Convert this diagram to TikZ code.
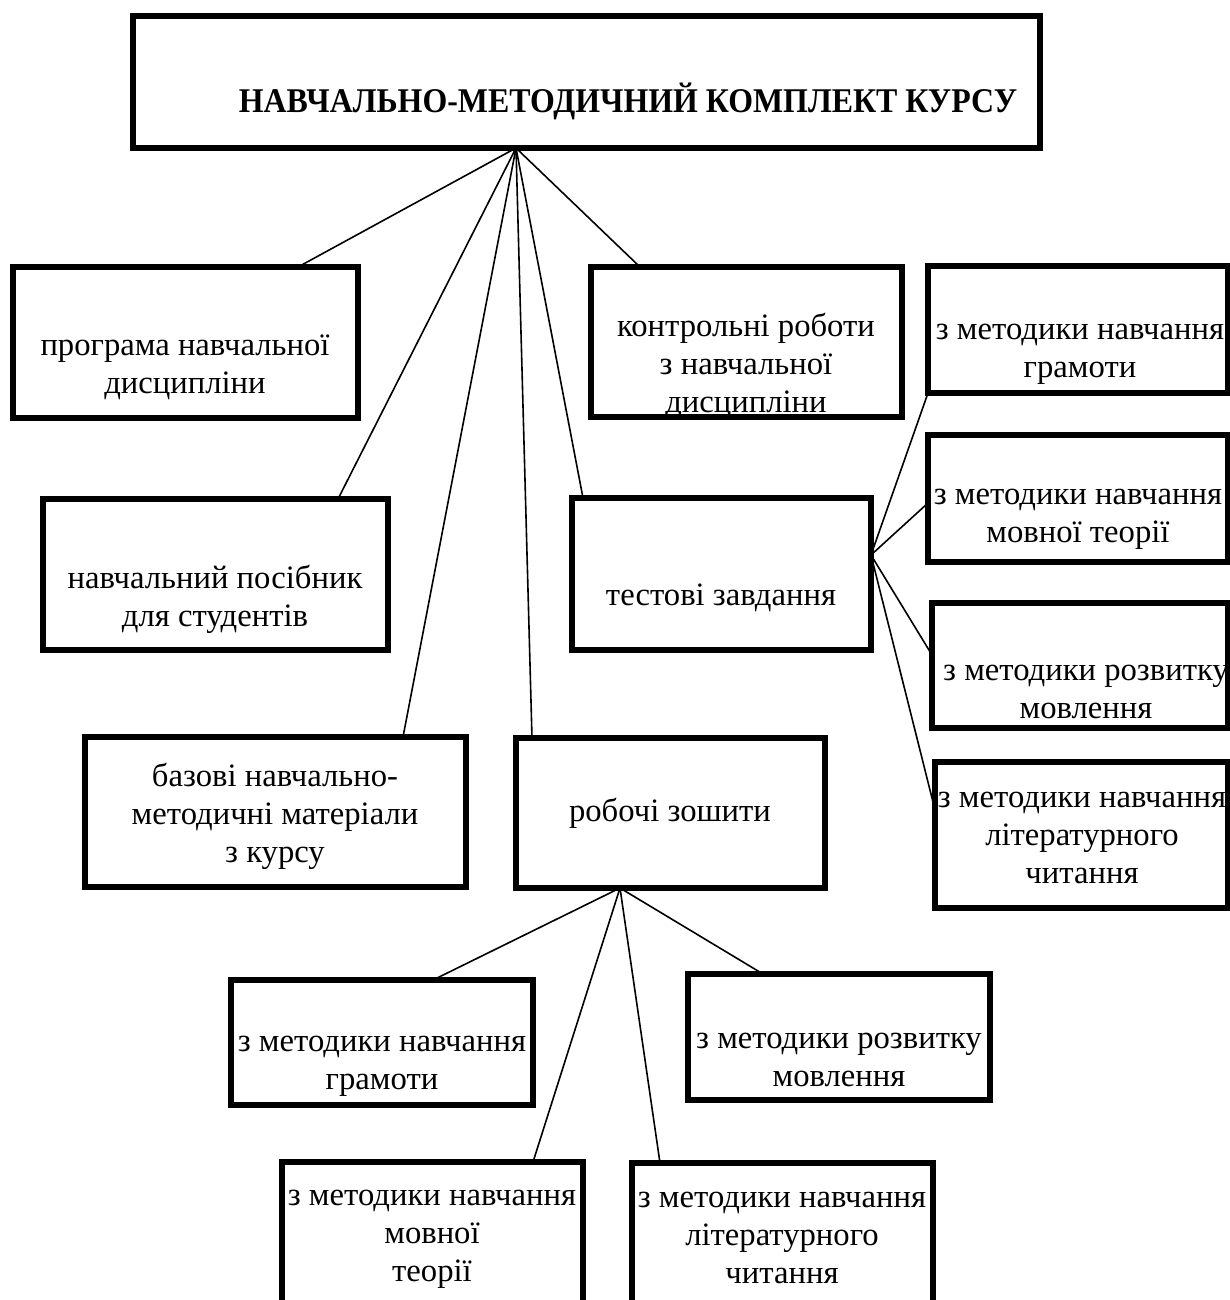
\documentclass[tikz,border=0pt]{standalone}
\usepackage{fontspec}
\setmainfont{Liberation Serif}[BoldFont={Liberation Serif Bold}]
\newfontfamily\ukrserif{Liberation Serif}[BoldFont={Liberation Serif Bold}]
\usetikzlibrary{calc}
\begin{document}
\begin{tikzpicture}[x=0.75pt,y=-0.75pt,
  box/.style 2 args={draw, line width=4.2pt, inner sep=0pt, outer sep=0pt,
    minimum width=#1*0.75pt, minimum height=#2*0.75pt},
  txt/.style={font=\ukrserif\fontsize{24.5}{28.5}\selectfont, align=center, inner sep=0pt},
  ttl/.style={font=\ukrserif\fontsize{26}{30}\selectfont\bfseries, inner sep=0pt},
  link/.style={line width=1.2pt}]
\clip (0,0) rectangle (1230,1300);
\fill[white] (0,0) rectangle (1230,1300);

% boxes
\node[box={907}{132}] (top) at (586.5,82) {};
\node[box={345}{151}] (prog) at (185.5,342.5) {};
\node[box={345}{151}] (posib) at (215.5,574.5) {};
\node[box={381}{150}] (bazovi) at (275.5,812) {};
\node[box={311}{150}] (kontr) at (746.5,342) {};
\node[box={299}{152}] (test) at (721.5,574) {};
\node[box={309}{150}] (robochi) at (670.5,813) {};
\node[box={300}{127}] (r1) at (1078,329.5) {};
\node[box={300}{127}] (r2) at (1078,498.5) {};
\node[box={296}{125}] (r3) at (1080,665.5) {};
\node[box={293}{146}] (r4) at (1081.5,835) {};
\node[box={302}{125}] (b1) at (382,1042.5) {};
\node[box={302}{126}] (b2) at (839,1037) {};
\node[box={301}{176}] (b3) at (432.5,1250) {};
\node[box={301}{174}] (b4) at (782.5,1250) {};

% texts
\node[ttl, anchor=base] (ttop) at (628,112) {\scalebox{0.92}[1]{НАВЧАЛЬНО-МЕТОДИЧНИЙ КОМПЛЕКТ КУРСУ}};
\node[txt] (tprog) at (185,367) {програма навчальної\\дисципліни};
\node[txt] (tposib) at (215,599) {навчальний посібник\\для студентів};
\node[txt] (tbazovi) at (275,816) {базові навчально-\\методичні матеріали\\з курсу};
\node[txt] (tkontr) at (746,366) {контрольні роботи\\з навчальної\\дисципліни};
\node[txt] (ttest) at (721,598) {тестові завдання};
\node[txt] (trobochi) at (670,813) {робочі зошити};
\node[txt] (tr1) at (1080,354) {з методики навчання\\грамоти};
\node[txt] (tr2) at (1078,519) {з методики навчання\\мовної теорії};
\node[txt] (tr3) at (1086,692) {з методики розвитку\\мовлення};
\node[txt] (tr4) at (1082,838) {з методики навчання\\літературного\\читання};
\node[txt] (tb1) at (382,1066) {з методики навчання\\грамоти};
\node[txt] (tb2) at (839,1060) {з методики розвитку\\мовлення};
\node[txt] (tb3) at (432,1239) {з методики навчання\\мовної\\теорії};
\node[txt] (tb4) at (782,1238) {з методики навчання\\літературного\\читання};

% hubs
\coordinate (h1) at ($(top.south west)+(383,0)$);
\coordinate (h2) at ($(test.north east)+(0,57)$);
\coordinate (h3) at ($(robochi.south west)+(104,0)$);

% connectors from the title box
\draw[link] (h1) -- ($(prog.north west)+(285,0)$);
\draw[link] (h1) -- ($(posib.north west)+(295,0)$);
\draw[link] (h1) -- ($(bazovi.north west)+(318,0)$);
\draw[link] (h1) -- ($(robochi.north west)+(16,0)$);
\draw[link] (h1) -- ($(test.north west)+(11,0)$);
\draw[link] (h1) -- ($(kontr.north west)+(49,0)$);

% connectors from test box
\draw[link] (h2) -- (r1.south west);
\draw[link] (h2) -- ($(r2.north west)+(0,68)$);
\draw[link] (h2) -- ($(r3.north west)+(0,52)$);
\draw[link] (h2) -- ($(r4.north west)+(0,48)$);

% connectors from workbooks box
\draw[link] (h3) -- ($(b1.north west)+(202,0)$);
\draw[link] (h3) -- ($(b3.north west)+(251,0)$);
\draw[link] (h3) -- ($(b4.north west)+(28,0)$);
\draw[link] (h3) -- ($(b2.north west)+(75,0)$);
\end{tikzpicture}
\end{document}
